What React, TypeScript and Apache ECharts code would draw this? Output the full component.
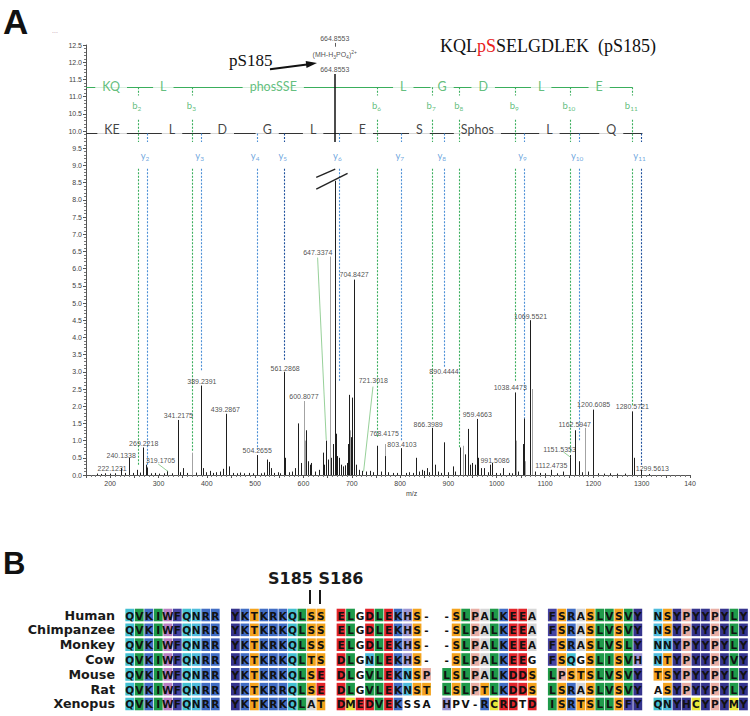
import React, { useEffect, useRef } from 'react';
import * as echarts from 'echarts';

// ---------- Panel A: MS/MS spectrum data ----------
const darkPeaks: [number, number][] = [
  [172.5, 0.04], [181, 0.03], [190, 0.05], [200, 0.04], [210, 0.05], [222.12, 0.2], [231, 0.06], [240.13, 0.5],
  [248, 0.06], [255.3, 0.15], [262, 0.07], [269.22, 0.8], [274.5, 0.3], [277, 0.22], [285, 0.05], [293, 0.06],
  [302, 0.04], [311, 0.05], [319.17, 0.12], [328, 0.05], [341.22, 1.6], [346, 0.08], [351.8, 0.2], [360, 0.06],
  [378, 0.07], [389.24, 2.6], [392, 0.2], [399, 0.08], [407, 0.12], [413, 0.06], [420, 0.08], [427.7, 0.1],
  [434, 0.18], [439.29, 1.78], [447, 0.25], [455, 0.06], [462, 0.05], [469, 0.07], [478, 0.05], [488, 0.06],
  [496, 0.05], [504.27, 0.58], [512, 0.05], [518, 0.07], [524.4, 0.45], [528.5, 0.38], [532.7, 0.2], [540, 0.06],
  [547, 0.08], [553, 0.05], [561.29, 3.0], [563, 0.5], [570, 0.08], [577, 0.1], [583, 0.2], [589, 1.5],
  [595, 0.35], [606, 1.3], [610, 0.4], [614, 0.3], [617, 0.35], [624, 0.1], [632, 0.15], [640, 0.65],
  [643, 0.3], [647.34, 1.0], [651, 0.45], [658, 0.5], [661, 0.9], [664.86, 8.55], [668, 1.2], [671, 0.55],
  [674.4, 0.5], [678, 0.3], [682, 0.25], [686, 0.28], [690, 0.35], [693, 0.9], [695.5, 2.33], [698, 1.1],
  [700, 2.25], [702, 0.8], [704.84, 5.68], [706, 3.4], [710, 0.3], [715, 0.15], [721.3, 0.12], [729, 0.1],
  [738, 0.12], [745, 0.08], [753.5, 0.85], [760, 0.1], [768.42, 0.55], [776, 0.08], [785, 0.06], [795, 0.06],
  [803.41, 0.78], [812, 0.06], [820, 0.08], [827, 0.06], [833.5, 0.5], [840, 0.1], [845, 0.15], [850, 0.12],
  [855.6, 0.2], [860, 0.08], [866.4, 1.37], [873, 0.3], [880, 0.1], [885, 0.06], [890.44, 0.95], [900, 0.08],
  [909.5, 0.25], [915, 0.1], [924.6, 0.8], [935, 0.6], [941, 1.34], [945, 0.3], [949, 0.35], [955, 0.3],
  [959.47, 1.63], [962.5, 0.5], [968, 0.2], [975, 0.2], [982, 0.08], [986.7, 0.3], [991.51, 0.35], [1000, 0.06],
  [1007, 0.05], [1014, 0.2], [1025, 0.06], [1032, 0.05], [1038.45, 2.4], [1045, 0.1], [1054.5, 0.9], [1057.4, 1.65],
  [1069.55, 4.5], [1080, 0.1], [1090, 0.06], [1100, 0.05], [1112.47, 0.15], [1125, 0.05], [1138.5, 0.1], [1151.54, 0.58],
  [1162.59, 1.3], [1171.6, 0.4], [1178, 0.08], [1190, 0.1], [1200.61, 1.9], [1210, 0.05], [1222, 0.04], [1235, 0.05],
  [1250, 0.04], [1265, 0.04], [1280.57, 1.85], [1285, 0.5], [1299.56, 0.15], [1315, 0.03],
];

const grayPeaks: [number, number][] = [
  [370.4, 0.65], [600.81, 2.15], [603, 1.0], [655.5, 6.35], [697, 1.3], [769.5, 0.9], [930, 0.85],
  [1041, 1.0], [1059, 0.4], [1073, 2.5], [1183.5, 1.37],
];

// label text, label centre m/z, label centre intensity
const peakLabels: [string, number, number][] = [
  ['222.1231', 204, 0.2], ['240.1338', 222.8, 0.58], ['269.2218', 269.4, 0.91], ['319.1705', 304.5, 0.41],
  ['341.2175', 341.2, 1.72], ['389.2391', 389.8, 2.72], ['439.2867', 438.5, 1.9], ['504.2655', 504.3, 0.7],
  ['561.2868', 562, 3.1], ['600.8077', 601, 2.28], ['647.3374', 629.6, 6.48], ['704.8427', 704.8, 5.83],
  ['721.3018', 744.5, 2.75], ['768.4175', 767.3, 1.22], ['803.4103', 803.9, 0.9], ['866.3989', 858, 1.46],
  ['890.4444', 890.8, 3.01], ['959.4663', 959.8, 1.75], ['991.5086', 996.5, 0.42], ['1038.4473', 1028, 2.53],
  ['1069.5521', 1070, 4.62], ['1112.4735', 1113, 0.29], ['1151.5353', 1130, 0.75], ['1162.5947', 1161.3, 1.48],
  ['1200.6085', 1200.6, 2.04], ['1280.5721', 1280.7, 1.99], ['1299.5613', 1322, 0.2],
];

// green leader lines: from label (m/z, I) to peak (m/z, I)
const leaderLines: [number, number, number, number][] = [
  [299.4, 0.32, 320, 0.1], [629.3, 6.32, 647.2, 1.02], [743.9, 2.57, 724.5, 0.1], [1138, 0.67, 1152.4, 0.52],
];

const precursorMz = 664.8553;

const bIonNames = ['2', '3', '6', '7', '8', '9', '10', '11'];
const bIonMz = [257.16, 370.24, 753.3, 866.4, 923.4, 1038.45, 1151.53, 1280.57];
const bIonTops = [0.3, 0.7, 1.1, 1.6, 0.8, 2.7, 0.65, 2.0];

const yIonNames = ['2', '3', '4', '5', '6', '7', '8', '9', '10', '11'];
const yIonMz = [276.15, 389.24, 504.27, 561.29, 674.37, 803.41, 890.44, 1057.44, 1170.52, 1299.56];
const yIonTops = [0.25, 3.0, 0.73, 3.35, 2.7, 1.0, 3.1, 1.65, 1.0, 0.25];
const darkYIons = ['5', '11'];

const bLadder: [string, number][] = [
  ['KQ', 202], ['L', 310], ['phosSSE', 537.5], ['L', 806.6], ['G', 887], ['D', 972], ['L', 1092], ['E', 1212],
];
const yLadder: [string, number][] = [
  ['KE', 204], ['L', 328], ['D', 432], ['G', 525], ['L', 620], ['E', 722], ['S', 840], ['Sphos', 960],
  ['L', 1109], ['Q', 1237],
];

// ---------- Panel B: alignment ----------
const species = ['Human', 'Chimpanzee', 'Monkey', 'Cow', 'Mouse', 'Rat', 'Xenopus'];
const alignment = [
  'QVKIWFQNRR YKTKRKQLSS ELGDLEKHS- -SLPALKEEA FSRASLVSVY NSYPYYPYLY',
  'QVKIWFQNRR YKTKRKQLSS ELGDLEKHS- -SLPALKEEA FSRASLVSVY NSYPYYPYLY',
  'QVKIWFQNRR YKTKRKQLSS ELGDLEKHS- -SLPALKEEA FSRASLVSLY NNYPYYPYLY',
  'QVKIWFQNRR YKTKRKQLTS DLGNLEKHS- -SLPALKEEG FSQGSLISVH NTYPYYPYVY',
  'QVKIWFQNRR YKTKRKQLSE DLGVLEKNSP LSLPALKDDS LPSTSLVSVY TSYPYYPYLY',
  'QVKIWFQNRR YKTKRRQLSE DLGVLEKNST LSLPTLKDDS LSRASLVSVY ASYPYYPYLY',
  'QVKIWFQNRR YKTKRKQLAT DMEDVEKSSA HPV-RCRDTD ISRTSLLSFY QNYHCYPYMY',
];

const RED = '#e2262c';
const NAVY = '#35348d';
const resColors: Record<string, string> = {
  L: '#1f9a4a', V: '#1f9a4a', I: '#1f9a4a', K: '#416dc4', R: '#416dc4', Q: '#44c0d2', N: '#4fbcdc',
  S: '#f4a31e', T: '#f4a31e', E: RED, D: RED, Y: NAVY, F: '#4543a2', W: '#b77fc3', P: '#e8ada4',
  A: '#d6d6d6', C: '#e9e63a', M: '#e9e63a', H: '#9d96d3', G: '', '-': '',
};
// row-block-col overrides (context-dependent colouring)
const colorOverrides: Record<string, string> = {
  '6-2-7': '', '6-2-8': '', '6-2-9': '', '6-3-1': '', '6-3-2': '', '6-3-6': RED, '6-3-8': '',
  '6-5-3': NAVY, '5-5-0': '',
};

const GREEN = '#3aae5c';
const BLUE = '#4b8fd6';
const DARKBLUE = '#1d4f9c';
const TEXT = '#222222';

type Seg = { coords: number[][]; lineStyle: any };
const seg = (x1: number, y1: number, x2: number, y2: number, lineStyle: any): Seg => ({
  coords: [[x1, y1], [x2, y2]],
  lineStyle,
});

export default function App() {
  const ref = useRef<HTMLDivElement>(null);

  useEffect(() => {
    const chart = echarts.init(ref.current!, null, { renderer: 'svg' });

    const peakSegs = (arr: [number, number][]) => arr.map(([x, y]) => ({ coords: [[x, 0], [x, y]] }));

    const ionSegs: Seg[] = [];
    bIonMz.forEach((mz, i) => {
      const st = { color: GREEN, width: 1.1, type: [2, 1.5] };
      ionSegs.push(seg(mz, 11.27, mz, 11.03, st), seg(mz, 10.33, mz, 9.68, st), seg(mz, 8.9, mz, bIonTops[i], st));
    });
    yIonMz.forEach((mz, i) => {
      const dark = darkYIons.includes(yIonNames[i]);
      const st = { color: dark ? DARKBLUE : BLUE, width: 1.1, type: [2, 1.5] };
      ionSegs.push(seg(mz, 9.93, mz, 9.68, st), seg(mz, 8.9, mz, yIonTops[i], st));
    });

    const ladderSegs: Seg[] = [
      seg(150, 11.27, bIonMz[bIonMz.length - 1], 11.27, { color: GREEN, width: 1.2 }),
      seg(150, 9.93, yIonMz[yIonMz.length - 1] + 2, 9.93, { color: '#333', width: 1.1 }),
    ];

    const annotSegs: Seg[] = [
      ...leaderLines.map(([a, b, c, d]) => seg(a, b, c, d, { color: '#7cc47f', width: 0.8 })),
      seg(precursorMz, 11.66, precursorMz, 9.68, { color: '#111', width: 1.5 }),
      seg(precursorMz, 12.56, precursorMz, 12.45, { color: '#333', width: 0.8 }),
      seg(626.5, 8.65, 665.8, 8.89, { color: '#222', width: 1.4 }),
      seg(626.5, 8.31, 691.3, 8.77, { color: '#222', width: 1.4 }),
    ];

    // alignment cells
    const BLOCK_PITCH = 11.12;
    const cells: { pos: number; row: number; res: string; color: string }[] = [];
    alignment.forEach((line, r) => {
      line.split(' ').forEach((block, b) => {
        block.split('').forEach((res, c) => {
          const key = `${r}-${b}-${c}`;
          const color = key in colorOverrides ? colorOverrides[key] : resColors[res] ?? '';
          cells.push({ pos: b * BLOCK_PITCH + c, row: r, res, color });
        });
      });
    });

    const linesBase = {
      type: 'lines',
      coordinateSystem: 'cartesian2d',
      xAxisIndex: 0,
      yAxisIndex: 0,
      polyline: false,
      silent: true,
      clip: false,
    };

    const labelScatter = {
      type: 'scatter',
      xAxisIndex: 0,
      yAxisIndex: 0,
      symbolSize: 1,
      itemStyle: { color: 'rgba(0,0,0,0)' },
      silent: true,
      clip: false,
    };

    const plainLabel = (t: string) => ({
      formatter: t,
      color: TEXT,
      fontSize: 7,
      fontFamily: 'Liberation Sans',
      textBorderWidth: 0,
      textBorderColor: 'transparent',
    });

    const option: any = {
      animation: false,
      backgroundColor: '#fff',
      grid: [
        { left: 86, right: 60, top: 45, bottom: 241 },
        { left: 125, top: 607.6, width: 623.2, height: 103.8 },
      ],
      xAxis: [
        {
          gridIndex: 0,
          type: 'value',
          min: 150,
          max: 1400,
          interval: 50,
          splitLine: { show: false },
          axisLine: { lineStyle: { color: '#555', width: 1 } },
          axisTick: { length: 3, lineStyle: { color: '#555' } },
          minorTick: { show: true, splitNumber: 5, length: 2, lineStyle: { color: '#777' } },
          axisLabel: {
            fontSize: 7,
            color: '#444',
            fontFamily: 'Liberation Sans',
            margin: 5,
            formatter: (v: number) => (v % 100 === 0 ? (v === 1400 ? '140' : String(v)) : ''),
          },
        },
        { gridIndex: 1, type: 'value', min: 0, max: 65.6, show: false },
      ],
      yAxis: [
        {
          gridIndex: 0,
          type: 'value',
          min: 0,
          max: 12.5,
          interval: 0.5,
          splitLine: { show: false },
          axisLine: { show: true, lineStyle: { color: '#555', width: 1 } },
          axisTick: { show: true, length: 3, lineStyle: { color: '#555' } },
          minorTick: { show: true, splitNumber: 5, length: 2, lineStyle: { color: '#777' } },
          axisLabel: {
            fontSize: 7,
            color: '#444',
            fontFamily: 'Liberation Sans',
            margin: 4,
            formatter: (v: number) => v.toFixed(1),
          },
        },
        {
          gridIndex: 1,
          type: 'category',
          data: species,
          inverse: true,
          axisLine: { show: false },
          axisTick: { show: false },
          splitLine: { show: false },
          axisLabel: {
            interval: 0,
            fontSize: 12.7,
            lineHeight: 14,
            fontWeight: 'bold',
            fontFamily: 'DejaVu Sans',
            color: '#1a1a1a',
            margin: 10,
          },
        },
      ],
      series: [
        { ...linesBase, name: 'gray peaks', z: 2, lineStyle: { color: '#a3a3a3', width: 1, opacity: 1 }, data: peakSegs(grayPeaks) },
        { ...linesBase, name: 'peaks', z: 2, lineStyle: { color: '#1e1e1e', width: 1, opacity: 1 }, data: peakSegs(darkPeaks) },
        { ...linesBase, name: 'ladder', z: 2, lineStyle: { opacity: 1 }, data: ladderSegs },
        {
          ...labelScatter,
          name: 'ladder labels',
          z: 3,
          data: [
            ...bLadder.map(([t, x]) => ({ value: [x, 11.3], label: { formatter: t, color: GREEN } })),
            ...yLadder.map(([t, x]) => ({ value: [x, 10.03], label: { formatter: t, color: '#111' } })),
          ],
          label: {
            show: true,
            position: 'inside',
            fontSize: 12.5,
            fontFamily: 'Lato',
            backgroundColor: '#fff',
            padding: [1, 7],
            textBorderWidth: 0,
          },
        },
        { ...linesBase, name: 'ion lines', z: 4, lineStyle: { opacity: 1 }, data: ionSegs },
        { ...linesBase, name: 'annotations', z: 4, lineStyle: { opacity: 1 }, data: annotSegs },
        {
          ...labelScatter,
          name: 'ion labels',
          z: 5,
          data: [
            ...bIonMz.map((x, i) => ({
              value: [x, 10.74],
              label: { formatter: `{g|b}{gs|${bIonNames[i]}}`, offset: [-1, 0] },
            })),
            ...yIonMz.map((x, i) => ({
              value: [x, 9.28],
              label: { formatter: `{b|y}{bs|${yIonNames[i]}}`, offset: [-2, 0] },
            })),
          ],
          label: {
            show: true,
            position: 'inside',
            fontFamily: 'Lato',
            textBorderWidth: 0,
            rich: {
              g: { fontSize: 9.5, color: GREEN, lineHeight: 12, fontFamily: 'Lato' },
              gs: { fontSize: 6.5, color: GREEN, lineHeight: 7, verticalAlign: 'bottom', fontFamily: 'Lato' },
              b: { fontSize: 9.5, color: BLUE, lineHeight: 12, fontFamily: 'Lato' },
              bs: { fontSize: 6.5, color: BLUE, lineHeight: 7, verticalAlign: 'bottom', fontFamily: 'Lato' },
            },
          },
        },
        {
          ...labelScatter,
          name: 'peak labels',
          z: 6,
          data: [
            ...peakLabels.map(([t, x, y]) => ({ value: [x, y], label: plainLabel(t) })),
            { value: [precursorMz, 12.7], label: plainLabel('664.8553') },
            { value: [precursorMz, 11.8], label: plainLabel('664.8553') },
            {
              value: [precursorMz, 12.22],
              label: {
                formatter: '{n|(MH-H}{s|3}{n|PO}{s|4}{n|)}{p|2+}',
                color: TEXT,
                textBorderWidth: 0,
                rich: {
                  n: { fontSize: 7, lineHeight: 10, fontFamily: 'Liberation Sans', color: TEXT },
                  s: { fontSize: 5, lineHeight: 5, verticalAlign: 'bottom', fontFamily: 'Liberation Sans', color: TEXT },
                  p: { fontSize: 5, lineHeight: 5, verticalAlign: 'top', fontFamily: 'Liberation Sans', color: TEXT },
                },
              },
            },
          ],
          label: { show: true, position: 'inside', fontSize: 7, color: TEXT, fontFamily: 'Liberation Sans', textBorderWidth: 0 },
        },
        {
          type: 'custom',
          name: 'alignment',
          xAxisIndex: 1,
          yAxisIndex: 1,
          silent: true,
          data: cells.map((c) => [c.pos, c.row]),
          renderItem: (params: any, api: any) => {
            const cell = cells[params.dataIndex];
            const p = api.coord([cell.pos, cell.row]);
            const w = api.size([1, 0])[0];
            const h = 12.6;
            return {
              type: 'group',
              children: [
                {
                  type: 'rect',
                  shape: { x: p[0] + 0.35, y: p[1] - h / 2, width: w - 0.7, height: h },
                  style: { fill: cell.color || '#ffffff' },
                },
                {
                  type: 'text',
                  style: {
                    text: cell.res,
                    x: p[0] + w / 2,
                    y: p[1] + 0.5,
                    align: 'center',
                    verticalAlign: 'middle',
                    textAlign: 'center',
                    textVerticalAlign: 'middle',
                    font: 'bold 10.5px "DejaVu Sans"',
                    fill: '#111',
                  },
                },
              ],
            };
          },
        },
      ],
      graphic: [
        {
          type: 'text',
          left: 3,
          top: 4,
          style: { text: 'A', font: 'bold 35px "Liberation Sans"', fill: '#111' },
        },
        {
          type: 'text',
          left: 3,
          top: 548,
          style: { text: 'B', font: 'bold 31px "Liberation Sans"', fill: '#111' },
        },
        {
          type: 'text',
          left: 52,
          top: 27,
          style: { text: '...', font: '7px "Liberation Sans"', fill: '#b58aa0' },
        },
        {
          type: 'text',
          left: 440,
          top: 37,
          style: {
            text: '{k|KQL}{r|pS}{k|SELGDLEK  (pS185)}',
            rich: {
              k: { fontSize: 18, fontFamily: 'Liberation Serif', fill: '#111', color: '#111' },
              r: { fontSize: 18, fontFamily: 'Liberation Serif', fill: '#e8201c', color: '#e8201c' },
            },
          },
        },
        {
          type: 'text',
          left: 229,
          top: 52,
          style: { text: 'pS185', font: '17px "Liberation Serif"', fill: '#111' },
        },
        {
          type: 'line',
          shape: { x1: 270, y1: 69.3, x2: 307, y2: 64.6 },
          style: { stroke: '#111', lineWidth: 2 },
        },
        {
          type: 'polygon',
          shape: { points: [[317, 63], [305.7, 60.9], [306.5, 67.9]] },
          style: { fill: '#111' },
        },
        {
          type: 'text',
          left: 406,
          top: 490,
          style: { text: 'm/z', font: '7px "Liberation Sans"', fill: '#444' },
        },
        {
          type: 'text',
          left: 268,
          top: 570,
          style: { text: 'S185 S186', font: 'bold 16px "DejaVu Sans"', fill: '#1a1a1a' },
        },
        { type: 'rect', shape: { x: 309, y: 590, width: 2, height: 14 }, style: { fill: '#1a1a1a' } },
        { type: 'rect', shape: { x: 319, y: 590, width: 2, height: 14 }, style: { fill: '#1a1a1a' } },
      ],
    };

    chart.setOption(option);
    return () => chart.dispose();
  }, []);

  return (
    <div
      ref={ref}
      style={{ position: 'absolute', left: 0, top: 0, width: 750, height: 716, background: '#fff' }}
    />
  );
}
